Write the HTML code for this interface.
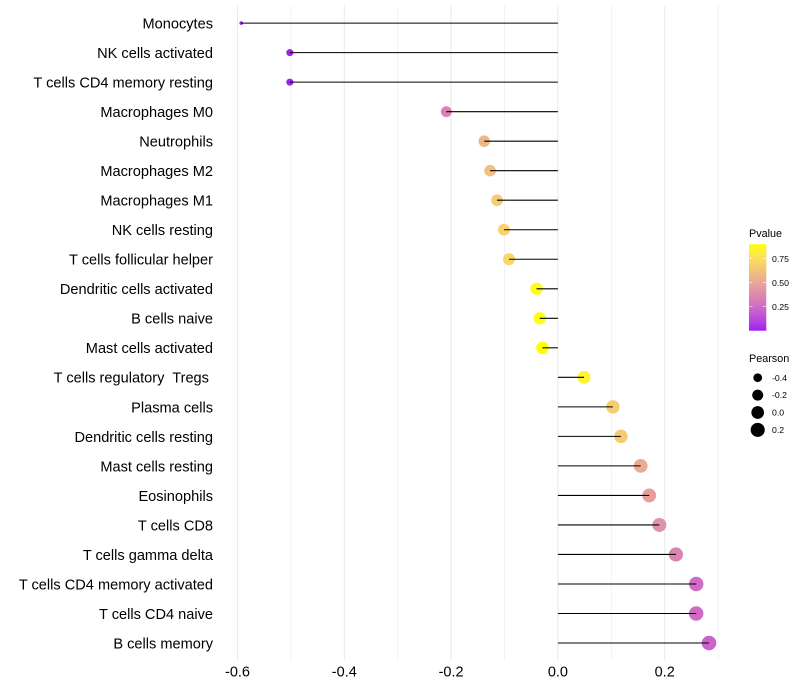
<!DOCTYPE html>
<html>
<head>
<meta charset="utf-8">
<title>Immune cell correlation lollipop chart</title>
<style>
html,body{margin:0;padding:0;background:#fff;width:800px;height:700px;overflow:hidden}
svg{display:block}
text{font-family:"Liberation Sans",Arial,sans-serif;white-space:pre}
</style>
</head>
<body>
<svg id="chart" xmlns="http://www.w3.org/2000/svg" width="800" height="700" viewBox="0 0 800 700" xml:space="preserve">
  <defs>
    <linearGradient id="pvalue-gradient" x1="0" y1="1" x2="0" y2="0"></linearGradient>
  </defs>
  <g id="grid"></g>
  <g id="dots"></g>
  <g id="stems"></g>
  <g id="ylabels"></g>
  <g id="xlabels"></g>
  <g id="legend-p">
    <text x="749" y="237" font-size="10.8" fill="#000">Pvalue</text>
    <rect x="749" y="244.3" width="17.3" height="86.4" fill="url(#pvalue-gradient)"></rect>
  </g>
  <g id="legend-s">
    <text x="749" y="362" font-size="10.8" fill="#000">Pearson</text>
  </g>
</svg>
<script>
const cellTypes = ["Monocytes","NK cells activated","T cells CD4 memory resting","Macrophages M0","Neutrophils","Macrophages M2","Macrophages M1","NK cells resting","T cells follicular helper","Dendritic cells activated","B cells naive","Mast cells activated","T cells regulatory  Tregs ","Plasma cells","Dendritic cells resting","Mast cells resting","Eosinophils","T cells CD8","T cells gamma delta","T cells CD4 memory activated","T cells CD4 naive","B cells memory"];
const pearson = [-0.593,-0.502,-0.502,-0.209,-0.138,-0.127,-0.114,-0.101,-0.0915,-0.04,-0.034,-0.029,0.049,0.103,0.118,0.155,0.171,0.19,0.221,0.259,0.259,0.283];
const pvalues = [0.0,0.0,0.0,0.34,0.57,0.62,0.66,0.7,0.72,0.88,0.89,0.9,0.85,0.67,0.66,0.52,0.47,0.41,0.35,0.25,0.25,0.22];
const xTicks = [-0.6,-0.4,-0.2,0.0,0.2];
const xMinorTicks = [-0.5,-0.3,-0.1,0.1,0.3];
const xTickLabels = ["-0.6","-0.4","-0.2","0.0","0.2"];
const pLegendValues = [0.75,0.5,0.25];
const pLegendLabels = ["0.75","0.50","0.25"];
const pLimits = [0.0,0.9];
const sizeLegendValues = [-0.4,-0.2,0.0,0.2];
const sizeLegendLabels = ["-0.4","-0.2","0.0","0.2"];

const NS = "http://www.w3.org/2000/svg";
function mk(tag, parent, attrs, txt){
  const e = document.createElementNS(NS, tag);
  for (const k in attrs) e.setAttribute(k, attrs[k]);
  if (txt !== undefined) e.textContent = txt;
  parent.appendChild(e);
  return e;
}
function xScale(v){ return 557.9 + v * 534; }
function yScale(i){ return 23.1 + i * 29.52; }
function pLegendY(p){ return 330.7 - (p - pLimits[0]) / (pLimits[1] - pLimits[0]) * 86.4; }
const pMin = pLimits[0], pMax = pLimits[1];
const sMin = Math.min.apply(null, pearson), sMax = Math.max.apply(null, pearson);
function radius(v){
  const t = Math.max(0, Math.min(1, (v - sMin) / (sMax - sMin)));
  return 0.7 + 1.1 * (1 + 5 * Math.sqrt(t));
}
function rgb2lab(c){
  const f = c.map(function(u){ u/=255; return u>0.04045?Math.pow((u+0.055)/1.055,2.4):u/12.92; });
  const X=(0.4124*f[0]+0.3576*f[1]+0.1805*f[2])/0.95047, Y=0.2126*f[0]+0.7152*f[1]+0.0722*f[2], Z=(0.0193*f[0]+0.1192*f[1]+0.9505*f[2])/1.08883;
  const g=function(t){ return t>0.008856?Math.cbrt(t):7.787*t+16/116; };
  return [116*g(Y)-16, 500*(g(X)-g(Y)), 200*(g(Y)-g(Z))];
}
function lab2hex(l){
  const fy=(l[0]+16)/116, fx=fy+l[1]/500, fz=fy-l[2]/200;
  const h=function(t){ return t*t*t>0.008856?t*t*t:(t-16/116)/7.787; };
  const X=h(fx)*0.95047, Y=h(fy), Z=h(fz)*1.08883;
  const r=[3.2406*X-1.5372*Y-0.4986*Z, -0.9689*X+1.8758*Y+0.0415*Z, 0.0557*X-0.204*Y+1.057*Z];
  return "#"+r.map(function(u){
    u=u>0.0031308?1.055*Math.pow(u,1/2.4)-0.055:12.92*u;
    u=Math.round(Math.max(0,Math.min(1,u))*255);
    return (u<16?"0":"")+u.toString(16);
  }).join("");
}
const labLow = rgb2lab([160,32,240]), labHigh = rgb2lab([255,255,0]);
function pColor(p){
  const t = Math.max(0, Math.min(1, (p - pMin) / (pMax - pMin)));
  return lab2hex([0,1,2].map(function(i){ return labLow[i] + (labHigh[i]-labLow[i])*t; }));
}

const grid = document.getElementById("grid");
xMinorTicks.forEach(function(v){
  const l = mk("line", grid, {x1:xScale(v),x2:xScale(v),y1:5.4,y2:660.4,stroke:"#ededed","stroke-width":0.7});
  
  
});
xTicks.forEach(function(v){
  const l = mk("line", grid, {x1:xScale(v),x2:xScale(v),y1:5.4,y2:660.4,stroke:"#ebebeb","stroke-width":1.07});
  
  
});

const dots = document.getElementById("dots");
const stems = document.getElementById("stems");
const ylabels = document.getElementById("ylabels");
cellTypes.forEach(function(name, i){
  const y = yScale(i);
  const c = mk("circle", dots, {cx:xScale(pearson[i]),cy:y,r:radius(pearson[i]),fill:pColor(pvalues[i])});
  
  
  const s = mk("line", stems, {x1:xScale(0),x2:xScale(pearson[i]),y1:y,y2:y,stroke:"#000","stroke-width":1.07});
  
  
  const t = mk("text", ylabels, {x:213,y:y+5.4,"text-anchor":"end","font-size":14.58,fill:"#000","xml:space":"preserve"}, name);
  
  
});

const xlabels = document.getElementById("xlabels");
xTicks.forEach(function(v,i){
  const t = mk("text", xlabels, {x:xScale(v),y:676.5,"text-anchor":"middle","font-size":14.5,fill:"#000"}, xTickLabels[i]);
  
  
});

const grad = document.getElementById("pvalue-gradient");
[0,0.1,0.2,0.3,0.4,0.5,0.6,0.7,0.8,0.9,1].forEach(function(f){
  mk("stop", grad, {offset:f,"stop-color":pColor(pMin + f*(pMax-pMin))});
});
const lp = document.getElementById("legend-p");
pLegendValues.forEach(function(p,i){
  const y = pLegendY(p);
  const a = mk("line", lp, {x1:749,x2:752.5,y1:y,y2:y,stroke:"#fff","stroke-width":0.55});
  
  
  const b = mk("line", lp, {x1:762.8,x2:766.3,y1:y,y2:y,stroke:"#fff","stroke-width":0.55});
  
  
  const t = mk("text", lp, {x:772,y:y+3.1,"font-size":8.7,fill:"#000"}, pLegendLabels[i]);
  
  
});

const ls = document.getElementById("legend-s");
sizeLegendValues.forEach(function(v,i){
  const y = 377.7 + i * 17.4;
  const c = mk("circle", ls, {cx:757.7,cy:y,r:radius(v),fill:"#000"});
  
  
  const t = mk("text", ls, {x:772,y:y+3.1,"font-size":8.7,fill:"#000"}, sizeLegendLabels[i]);
  
  
});
</script>
</body>
</html>
